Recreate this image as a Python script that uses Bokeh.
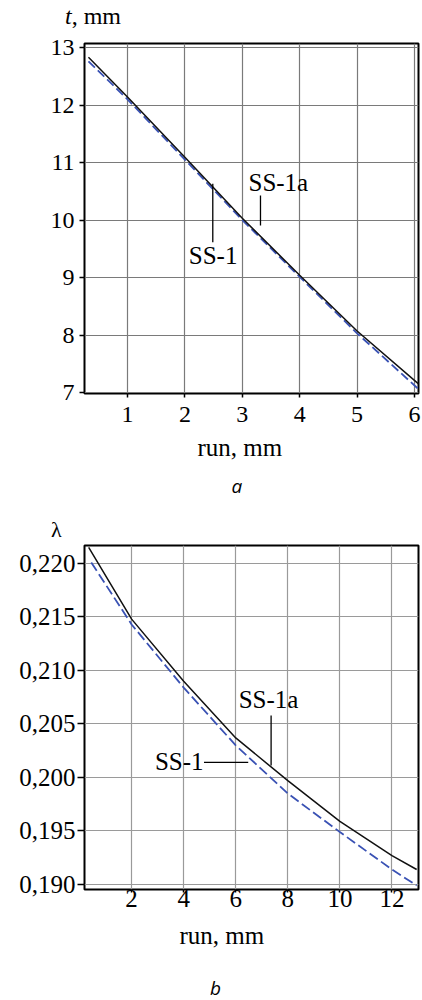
from bokeh.plotting import figure
from bokeh.models import Range1d, FixedTicker, Label, CustomJSTickFormatter, Title, Div
from bokeh.layouts import column
from bokeh.embed import file_html
from bokeh.resources import INLINE

# ---- chart a: thickness t (mm) vs run (mm)
run_a = [0.32, 1, 2, 3, 4, 5, 6.07]
t_ss1a = [12.83, 12.14, 11.09, 10.03, 9.04, 8.07, 7.15]
t_ss1 = [12.76, 12.10, 11.05, 10.00, 9.01, 8.03, 7.06]
xticks_a = [1, 2, 3, 4, 5, 6]
yticks_a = [7, 8, 9, 10, 11, 12, 13]

# ---- chart b: lambda vs run (mm)
run_b = [0.35, 2, 4, 6, 8, 10, 12, 12.95]
lam_ss1a = [0.2215, 0.2148, 0.2090, 0.2037, 0.1997, 0.1959, 0.1927, 0.1914]
run_b1 = [0.45, 2, 4, 6, 8, 10, 12, 12.95]
lam_ss1 = [0.2201, 0.2143, 0.2084, 0.2030, 0.1985, 0.1949, 0.1914, 0.1899]
xticks_b = [2, 4, 6, 8, 10, 12]
yticks_b = [0.190, 0.195, 0.200, 0.205, 0.210, 0.215, 0.220]

SERIF = "'Liberation Serif'"
BLUE = "#3a52b4"
BLACK = "#111111"


def style(p, grid_color, tick_size, tick_out_x, tick_out_y, stand_x, stand_y):
    p.background_fill_color = "white"
    p.border_fill_color = "white"
    p.outline_line_color = "black"
    p.outline_line_width = 2
    p.outline_line_alpha = 1
    for ax in (p.xaxis[0], p.yaxis[0]):
        ax.axis_line_color = None
        ax.major_tick_line_color = "black"
        ax.major_tick_line_width = 1.5
        ax.major_tick_in = 0
        ax.minor_tick_line_color = None
        ax.major_label_text_font = SERIF
        ax.major_label_text_font_size = tick_size
        ax.major_label_text_color = "black"
    p.xaxis[0].major_tick_out = tick_out_x
    p.yaxis[0].major_tick_out = tick_out_y
    p.xaxis[0].major_label_standoff = stand_x
    p.yaxis[0].major_label_standoff = stand_y
    p.xgrid.grid_line_color = grid_color
    p.ygrid.grid_line_color = grid_color
    p.xgrid.grid_line_width = 1.2
    p.ygrid.grid_line_width = 1.2


def lab(p, x, y, text):
    p.add_layout(Label(x=x, y=y, text=text, text_font=SERIF, text_font_size="25px",
                       text_align="left", text_baseline="middle", text_color="black"))


def below_title(p, text, offset, standoff, font, size, style_):
    p.add_layout(Title(text=text, align="left", offset=offset, standoff=standoff,
                       text_font=font, text_font_style=style_,
                       text_font_size=size, text_color="black"), "below")


# ================= chart a
head_a = Div(text="<i>t</i>, mm", width=422, height=30, margin=0,
             styles={"font-family": "'Liberation Serif'", "font-size": "24px",
                     "line-height": "33px", "padding-left": "65px", "color": "black"})

p1 = figure(width=422, height=473, output_backend="svg", toolbar_location=None,
            x_range=Range1d(0.251, 6.07), y_range=Range1d(6.983, 13.07),
            min_border_left=84, min_border_right=4, min_border_top=13, min_border_bottom=110)
p1.margin = 0
p1.xaxis.ticker = FixedTicker(ticks=xticks_a)
p1.yaxis.ticker = FixedTicker(ticks=yticks_a)
style(p1, "#7a7a7a", "24px", 4, 5, 9, 5)
below_title(p1, "run, mm", 113, 14, SERIF, "25px", "normal")
below_title(p1, "a", 147, 7, "'Open Sans'", "19px", "italic")

p1.line(run_a, t_ss1, line_color=BLUE, line_width=1.8, line_dash="9 4")
p1.line(run_a, t_ss1a, line_color=BLACK, line_width=1.5)

p1.segment(x0=[3.317], y0=[10.426], x1=[3.317], y1=[9.904], line_color="black", line_width=1.3)
p1.segment(x0=[2.486], y0=[10.63], x1=[2.486], y1=[9.614], line_color="black", line_width=1.3)
lab(p1, 3.108, 10.652, "SS-1a")
lab(p1, 2.068, 9.391, "SS-1")

# ================= chart b
head_b = Div(text="λ", width=422, height=36, margin=0,
             styles={"font-family": "'Liberation Serif'", "font-size": "22px",
                     "line-height": "53px", "padding-left": "51px", "color": "black"})

p2 = figure(width=422, height=436, output_backend="svg", toolbar_location=None,
            x_range=Range1d(0.19, 13.02), y_range=Range1d(0.18953, 0.22168),
            min_border_left=80, min_border_right=2, min_border_top=6, min_border_bottom=86)
p2.margin = 0
p2.xaxis.ticker = FixedTicker(ticks=xticks_b)
p2.yaxis.ticker = FixedTicker(ticks=yticks_b)
p2.yaxis.formatter = CustomJSTickFormatter(code="return tick.toFixed(3).replace('.', ',');")
style(p2, "#9a9a9a", "25px", 3, 7, -3, 2)
below_title(p2, "run, mm", 95, 20, SERIF, "25px", "normal")

p2.line(run_b1, lam_ss1, line_color=BLUE, line_width=1.8, line_dash="10 4")
p2.line(run_b, lam_ss1a, line_color=BLACK, line_width=1.5)

p2.segment(x0=[7.358], y0=[0.205794], x1=[7.358], y1=[0.201121], line_color="black", line_width=1.3)
p2.segment(x0=[4.78], y0=[0.201402], x1=[6.479], y1=[0.201402], line_color="black", line_width=1.3)
lab(p2, 6.113, 0.20729, "SS-1a")
lab(p2, 2.894, 0.201449, "SS-1")

foot_b = Div(text="<i>b</i>", width=422, height=24, margin=0,
             styles={"font-family": "'Open Sans'", "font-size": "19px",
                     "line-height": "27px", "padding-left": "210px", "color": "black"})

layout = column(head_a, p1, head_b, p2, foot_b, spacing=0, margin=0)
open("out.html", "w").write(file_html(layout, INLINE))
